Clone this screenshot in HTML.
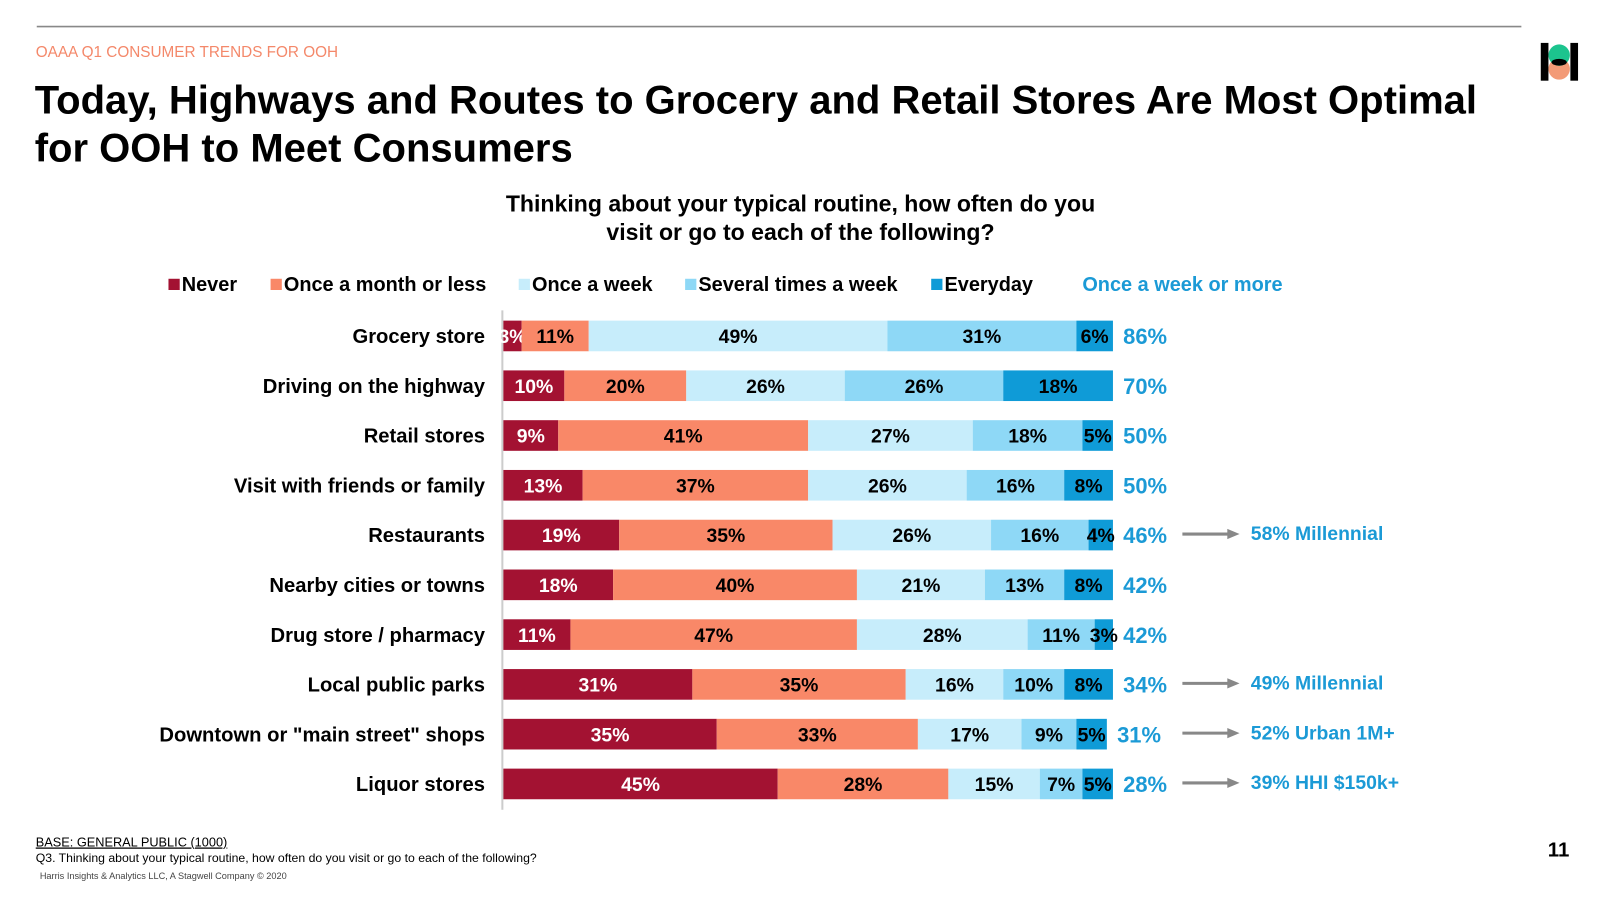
<!DOCTYPE html>
<html><head><meta charset="utf-8"><style>
body{margin:0;width:1600px;height:900px;background:#fff;overflow:hidden;font-family:"Liberation Sans",Arial,sans-serif;}
svg{position:absolute;left:0;top:0}
</style></head><body>
<svg id="c" width="1600" height="900" viewBox="0 0 1567 881.4" xmlns="http://www.w3.org/2000/svg" font-family="Liberation Sans, Arial, sans-serif">
<line x1="36" y1="26" x2="1490" y2="26" stroke="#888" stroke-width="1.5"/>
<text x="35" y="56" font-size="15" fill="#F4886A">OAAA Q1 CONSUMER TRENDS FOR OOH</text>
<text font-size="39.2" font-weight="bold" fill="#000"><tspan x="34" y="111">Today, Highways and Routes to Grocery and Retail Stores Are Most Optimal</tspan><tspan x="34" y="158">for OOH to Meet Consumers</tspan></text>
<g>
<rect x="1509" y="42" width="7.5" height="37" fill="#000"/><rect x="1538" y="42" width="7.5" height="37" fill="#000"/>
<circle cx="1527" cy="67.5" r="10.5" fill="#F39A76"/><circle cx="1527" cy="54" r="10.5" fill="#1CC48E"/>
<ellipse cx="1527" cy="61" rx="7.5" ry="3.3" fill="#000"/></g>
<text font-size="22.6" font-weight="bold" text-anchor="middle" fill="#000"><tspan x="784" y="207">Thinking about your typical routine, how often do you</tspan><tspan x="784" y="235">visit or go to each of the following?</tspan></text>
<g id="legend"></g>
<line x1="492" y1="304" x2="492" y2="793" stroke="#ccc" stroke-width="2"/>
<g id="bars"></g>
<text x="35" y="829" font-size="12.5" fill="#000" text-decoration="underline">BASE: GENERAL PUBLIC (1000)</text>
<text x="35" y="844" font-size="12" fill="#000">Q3. Thinking about your typical routine, how often do you visit or go to each of the following?</text>
<text x="39" y="861" font-size="9" fill="#444">Harris Insights &amp; Analytics LLC, A Stagwell Company © 2020</text>
<text x="1537" y="839" font-size="20" font-weight="bold" text-anchor="end">11</text>
</svg>
<script>
const categories=["Grocery store","Driving on the highway","Retail stores","Visit with friends or family","Restaurants","Nearby cities or towns","Drug store / pharmacy","Local public parks","Downtown or \"main street\" shops","Liquor stores"];
const never=[3,10,9,13,19,18,11,31,35,45];
const monthly=[11,20,41,37,35,40,47,35,33,28];
const weekly=[49,26,27,26,26,21,28,16,17,15];
const several=[31,26,18,16,16,13,11,10,9,7];
const everyday=[6,18,5,8,4,8,3,8,5,5];
const totals=[86,70,50,50,46,42,42,34,31,28];
const notes=["","","","","58% Millennial","","","49% Millennial","52% Urban 1M+","39% HHI $150k+"];
const seriesNames=["Never","Once a month or less","Once a week","Several times a week","Everyday"];
const colors=["#A31232","#F98868","#C7EDFB","#8ED8F6","#0F9BD7"];
const NS="http://www.w3.org/2000/svg";
const x0=493,pxPer=5.97,y0=329,rowStep=48.75,bh=30;
const xs=v=>x0+v*pxPer;
const ys=i=>y0+i*rowStep;
function mk(tag,attrs,parent){const e=document.createElementNS(NS,tag);for(const k in attrs)e.setAttribute(k,attrs[k]);parent.appendChild(e);return e;}
const lg=document.getElementById('legend');
const lx=[165,265,508,671,912];
seriesNames.forEach((n,i)=>{
 const r=mk('rect',{x:lx[i],y:273,width:11,height:11,fill:colors[i]},lg);
 
 
 const t=mk('text',{x:lx[i]+13,y:285,'font-size':19.5,'font-weight':'bold'},lg);t.textContent=n;
 
 
});
const lt=mk('text',{x:1060,y:285,'font-size':19.5,'font-weight':'bold',fill:'#1B9AD6'},lg);lt.textContent="Once a week or more";


const g=document.getElementById('bars');
const series=[never,monthly,weekly,several,everyday];
categories.forEach((c,i)=>{
 const cy=ys(i);
 const lab=mk('text',{x:475,y:cy+7,'font-size':19.8,'font-weight':'bold','text-anchor':'end'},g);lab.textContent=c;
 
 
 let cum=0;
 series.forEach((s,j)=>{
  const v=s[i];const xa=xs(cum),xb=xs(cum+v);
  const r=mk('rect',{x:xa,y:cy-bh/2,width:xb-xa,height:bh,fill:colors[j]},g);
  
  
  const t=mk('text',{x:(xa+xb)/2,y:cy+7,'font-size':19,'font-weight':'bold','text-anchor':'middle',fill:j==0?'#fff':'#000'},g);
  t.textContent=v+'%';
  
  
  cum+=v;
 });
 const tt=mk('text',{x:xs(cum)+10,y:cy+8,'font-size':21.5,'font-weight':'bold',fill:'#1B9AD6'},g);tt.textContent=totals[i]+'%';
 
 
 if(notes[i]){
  const a=mk('g',{},g);
  
  
  mk('line',{x1:1158,y1:cy-1,x2:1204,y2:cy-1,stroke:'#888','stroke-width':3},a);
  mk('polygon',{points:`1202,${cy-6} 1214,${cy-1} 1202,${cy+4}`,fill:'#888'},a);
  const n=mk('text',{x:1225,y:cy+5,'font-size':19,'font-weight':'bold',fill:'#1B9AD6'},g);n.textContent=notes[i];
  
  
 }
});
</script>
</body></html>
